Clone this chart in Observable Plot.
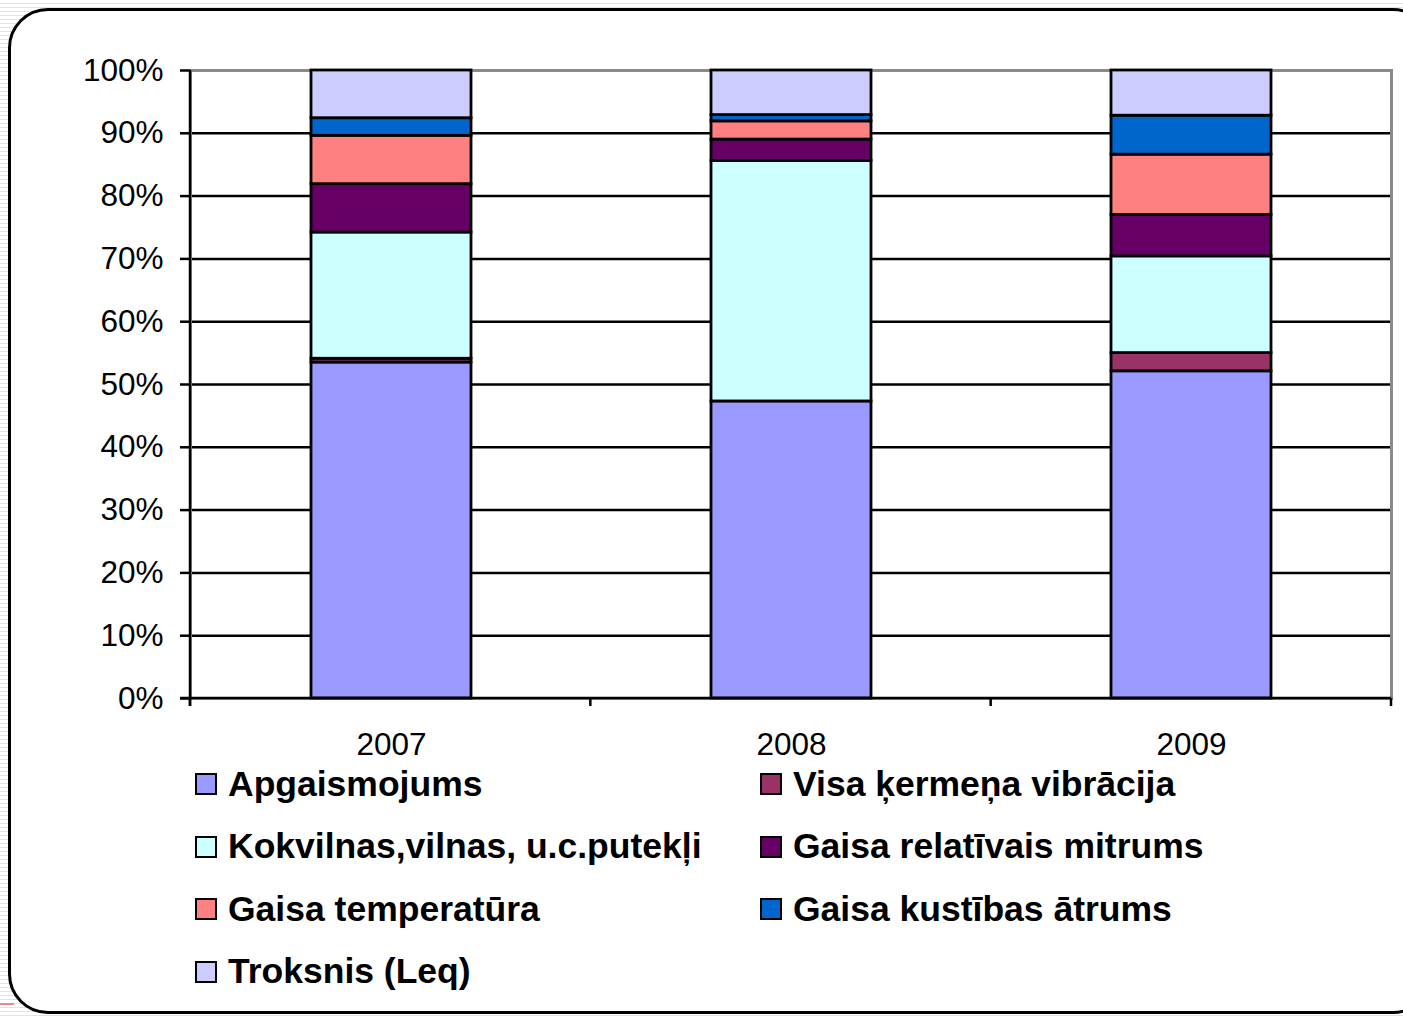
<!DOCTYPE html>
<html><head><meta charset="utf-8">
<script src="https://cdn.jsdelivr.net/npm/d3@7"></script>
<script src="https://cdn.jsdelivr.net/npm/@observablehq/plot@0.6"></script>
<style>
html,body{margin:0;padding:0;}
body{width:1403px;height:1016px;overflow:hidden;position:relative;background:repeating-linear-gradient(to bottom,#fff 0,#fff 3px,#e2e2e2 3px,#e2e2e2 4px);font-family:"Liberation Sans",Arial,sans-serif;}
#frame{position:absolute;left:8px;top:8px;width:1425px;height:1006px;border:3px solid #000;border-radius:40px;background:#fff;box-sizing:border-box;}
#chart{position:absolute;left:0;top:0;}
#legend{position:absolute;left:0;top:0;}
.item{position:absolute;display:flex;align-items:center;height:40px;font-weight:bold;font-size:35.5px;color:#000;white-space:nowrap;}
.sw{width:18px;height:18px;border:2.5px solid #000;margin-right:11px;flex:none;}
#redline{position:absolute;left:0;top:1003px;width:14px;height:2px;background:#e98b8b;}
</style>
</head><body>
<div id="redline"></div>
<div id="frame"></div>
<div id="chart"></div>
<div id="legend"></div>
<script>
const years = ["2007", "2008", "2009"];
const series = ["Apgaismojums", "Visa ķermeņa vibrācija", "Kokvilnas,vilnas, u.c.putekļi", "Gaisa relatīvais mitrums", "Gaisa temperatūra", "Gaisa kustības ātrums", "Troksnis (Leq)"];
const colors = ["#9999FF", "#993366", "#CCFFFF", "#660066", "#FF8080", "#0066CC", "#CCCCFF"];
const v2007 = [53.5, 0.6, 20.1, 7.7, 7.7, 2.8, 7.6];
const v2008 = [47.3, 0.0, 38.3, 3.4, 2.9, 1.0, 7.1];
const v2009 = [52.1, 2.9, 15.4, 6.6, 9.6, 6.2, 7.2];
const yTicks = [0, 10, 20, 30, 40, 50, 60, 70, 80, 90, 100];

const valuesByYear = [v2007, v2008, v2009];
const data = [];
years.forEach((yr, i) => series.forEach((s, j) => data.push({year: yr, series: s, value: valuesByYear[i][j]})));

const axesLines = (index, scales, values, dims) => {
  const g = d3.create("svg:g");
  const {width, height, marginLeft, marginRight, marginTop, marginBottom} = dims;
  const y0 = height - marginBottom;
  const n = years.length;
  const step = (width - marginLeft - marginRight) / n;
  g.append("line").attr("x1", marginLeft).attr("x2", marginLeft).attr("y1", marginTop).attr("y2", y0 + 8)
    .attr("stroke", "#000").attr("stroke-width", 2.5);
  g.append("line").attr("x1", marginLeft - 10).attr("x2", width - marginRight).attr("y1", y0).attr("y2", y0)
    .attr("stroke", "#000").attr("stroke-width", 2.5);
  for (let i = 0; i <= n; i++) {
    const x = marginLeft + i * step;
    g.append("line").attr("x1", x).attr("x2", x).attr("y1", y0).attr("y2", y0 + 8)
      .attr("stroke", "#000").attr("stroke-width", 2.5);
  }
  return g.node();
};

const chart = Plot.plot({
  width: 1403,
  height: 770,
  marginLeft: 190,
  marginRight: 12,
  marginTop: 70,
  marginBottom: 72,
  style: {fontFamily: "'Liberation Sans', Arial, sans-serif", fontSize: "31px", color: "#000", background: "transparent", overflow: "visible"},
  x: {domain: years, paddingInner: 0.6, paddingOuter: 0.3, label: null},
  y: {domain: [0, 100], label: null},
  color: {domain: series, range: colors},
  marks: [
    Plot.ruleY(yTicks.filter(d => d < 100), {stroke: "#000", strokeWidth: 2.5}),
    Plot.frame({stroke: "#8a8a8a", strokeWidth: 3}),
    Plot.barY(data, {x: "year", y: "value", fill: "series", stroke: "#000", strokeWidth: 2.8, order: series}),
    Plot.axisY({ticks: yTicks, tickFormat: d => d + "%", tickSize: 10, tickPadding: 17, strokeWidth: 2.5, fontSize: 31.5}),
    Plot.axisX({tickSize: 0, tickPadding: 34, fontSize: 31.5}),
    axesLines
  ]
});
document.getElementById("chart").appendChild(chart);

const legend = document.getElementById("legend");
series.forEach((s, i) => {
  const col = i % 2, row = Math.floor(i / 2);
  const item = document.createElement("div");
  item.className = "item";
  item.style.left = (col === 0 ? 195 : 760) + "px";
  item.style.top = (764 + row * 62.5) + "px";
  const sw = document.createElement("div");
  sw.className = "sw";
  sw.style.background = colors[i];
  const tx = document.createElement("span");
  tx.textContent = s;
  item.appendChild(sw);
  item.appendChild(tx);
  legend.appendChild(item);
});
</script>
</body></html>
